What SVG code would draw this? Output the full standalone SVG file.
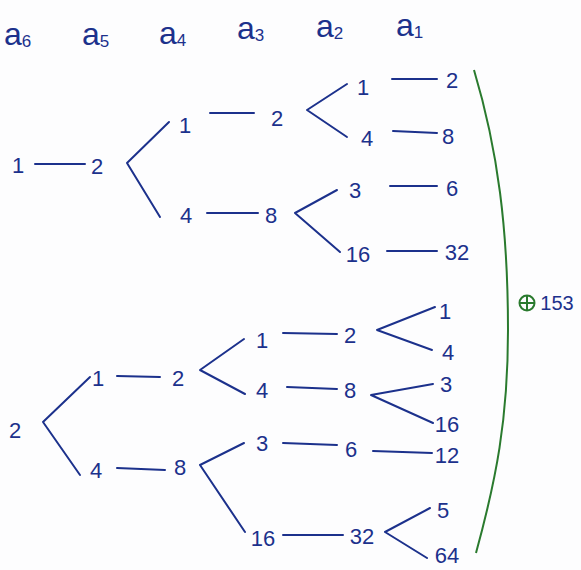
<svg xmlns="http://www.w3.org/2000/svg" width="581" height="570" viewBox="0 0 581 570">
<style>
.t{font-family:"Liberation Sans","DejaVu Sans",sans-serif;font-size:22px;fill:#1c318c;text-anchor:middle;dominant-baseline:central}
.h{font-family:"Liberation Sans","DejaVu Sans",sans-serif;font-size:32px;fill:#1c318c}
.s{font-size:17px}
.c{fill:none;stroke:#1c318c;stroke-width:2;stroke-linecap:round;stroke-linejoin:round}
.g{fill:none;stroke:#2a7a2e;stroke-width:2}
</style>
<rect width="581" height="570" fill="#fdfdfe"/>
<g id="headers">
<text class="h" x="4" y="45">a<tspan class="s" dy="2">6</tspan></text>
<text class="h" x="82" y="45">a<tspan class="s" dy="2">5</tspan></text>
<text class="h" x="159" y="44">a<tspan class="s" dy="2">4</tspan></text>
<text class="h" x="237" y="39">a<tspan class="s" dy="2">3</tspan></text>
<text class="h" x="316" y="37">a<tspan class="s" dy="2">2</tspan></text>
<text class="h" x="396" y="36">a<tspan class="s" dy="2">1</tspan></text>
</g>
<g id="connectors">
<line class="c" x1="35" y1="164" x2="85" y2="164"/>
<polyline class="c" points="169,122 127,163 160,217"/>
<line class="c" x1="210" y1="113" x2="254" y2="113"/>
<line class="c" x1="207" y1="213" x2="258" y2="213"/>
<polyline class="c" points="347,84 307,110 347,137"/>
<line class="c" x1="392" y1="79" x2="437" y2="79"/>
<line class="c" x1="393" y1="131" x2="437" y2="133"/>
<polyline class="c" points="337,190 295,213 340,252"/>
<line class="c" x1="390" y1="186" x2="437" y2="186"/>
<line class="c" x1="387" y1="251" x2="437" y2="251"/>
<line class="c" x1="117" y1="376" x2="160" y2="377"/>
<line class="c" x1="117" y1="468" x2="165" y2="470"/>
<polyline class="c" points="90,377 43,422 80,475"/>
<polyline class="c" points="244,339 200,370 245,394"/>
<polyline class="c" points="244,443 200,465 245,532"/>
<line class="c" x1="283" y1="333" x2="337" y2="334"/>
<line class="c" x1="287" y1="387" x2="337" y2="389"/>
<line class="c" x1="283" y1="443" x2="337" y2="445"/>
<line class="c" x1="283" y1="535" x2="343" y2="535"/>
<polyline class="c" points="435,307 377,330 432,350"/>
<polyline class="c" points="433,384 371,395 433,423"/>
<line class="c" x1="373" y1="451" x2="432" y2="453"/>
<polyline class="c" points="430,508 385,532 427,558"/>
<path class="g" d="M474,70 C498,150 508,230 508,330 C508,420 496,480 476,553"/>
</g>
<g id="n-top-a6"><text class="t" x="18" y="165">1</text></g>
<g id="n-top-a5"><text class="t" x="97" y="166">2</text></g>
<g id="n-top-a4-1"><text class="t" x="185" y="125">1</text></g>
<g id="n-top-a3-1"><text class="t" x="277" y="118">2</text></g>
<g id="n-top-a4-2"><text class="t" x="186" y="215">4</text></g>
<g id="n-top-a3-2"><text class="t" x="271" y="215">8</text></g>
<g id="n-top-a2-1"><text class="t" x="363" y="87">1</text></g>
<g id="n-top-a1-1"><text class="t" x="452" y="80">2</text></g>
<g id="n-top-a2-2"><text class="t" x="367" y="138">4</text></g>
<g id="n-top-a1-2"><text class="t" x="448" y="136">8</text></g>
<g id="n-top-a2-3"><text class="t" x="355" y="190">3</text></g>
<g id="n-top-a1-3"><text class="t" x="452" y="188">6</text></g>
<g id="n-top-a2-4"><text class="t" x="358" y="254">16</text></g>
<g id="n-top-a1-4"><text class="t" x="457" y="252">32</text></g>
<g id="n-bot-a6"><text class="t" x="15" y="430">2</text></g>
<g id="n-bot-a5-1"><text class="t" x="98" y="378">1</text></g>
<g id="n-bot-a4-1"><text class="t" x="178" y="378">2</text></g>
<g id="n-bot-a5-2"><text class="t" x="96" y="470">4</text></g>
<g id="n-bot-a4-2"><text class="t" x="180" y="467">8</text></g>
<g id="n-bot-a3-1"><text class="t" x="262" y="340">1</text></g>
<g id="n-bot-a2-1"><text class="t" x="350" y="335">2</text></g>
<g id="n-bot-a3-2"><text class="t" x="262" y="390">4</text></g>
<g id="n-bot-a2-2"><text class="t" x="350" y="390">8</text></g>
<g id="n-bot-a3-3"><text class="t" x="262" y="443">3</text></g>
<g id="n-bot-a2-3"><text class="t" x="351" y="449">6</text></g>
<g id="n-bot-a3-4"><text class="t" x="263" y="538">16</text></g>
<g id="n-bot-a2-4"><text class="t" x="362" y="536">32</text></g>
<g id="n-bot-a1-1"><text class="t" x="445" y="311">1</text></g>
<g id="n-bot-a1-2"><text class="t" x="448" y="352">4</text></g>
<g id="n-bot-a1-3"><text class="t" x="446" y="384">3</text></g>
<g id="n-bot-a1-4"><text class="t" x="447" y="424">16</text></g>
<g id="n-bot-a1-5"><text class="t" x="447" y="455">12</text></g>
<g id="n-bot-a1-6"><text class="t" x="443" y="510">5</text></g>
<g id="n-bot-a1-7"><text class="t" x="447" y="555">64</text></g>
<g id="sum">
<circle cx="527" cy="303" r="7.5" fill="none" stroke="#2a7a2e" stroke-width="2"/>
<line x1="519.5" y1="303" x2="534.5" y2="303" stroke="#2a7a2e" stroke-width="2"/>
<line x1="527" y1="295.5" x2="527" y2="310.5" stroke="#2a7a2e" stroke-width="2"/>
<text class="t" x="557" y="303" style="font-size:20px">153</text>
</g>
</svg>
